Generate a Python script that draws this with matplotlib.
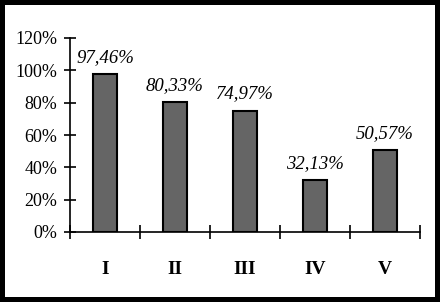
import matplotlib
matplotlib.use('Agg')
import matplotlib.pyplot as plt
import matplotlib.patches as patches

# --- data ---
categories = ['I', 'II', 'III', 'IV', 'V']
values = [0.9746, 0.8033, 0.7497, 0.3213, 0.5057]
labels = ['97,46%', '80,33%', '74,97%', '32,13%', '50,57%']
yticks = [0, 0.2, 0.4, 0.6, 0.8, 1.0, 1.2]
ytick_labels = ['0%', '20%', '40%', '60%', '80%', '100%', '120%']

W, H = 440, 302
fig = plt.figure(figsize=(W / 100, H / 100), dpi=100)
fig.patch.set_facecolor('black')
# white panel inside a 5px black frame
fig.patches.append(patches.Rectangle((5 / W, 5 / H), 430 / W, 292 / H,
                                     transform=fig.transFigure, facecolor='white',
                                     edgecolor='none', zorder=-1))

ax = fig.add_axes([70 / W, (H - 232) / H, 350 / W, 194 / H])
ax.set_zorder(2)
ax.set_facecolor('none')

x = list(range(len(categories)))
ax.bar(x, values, width=0.35, color='#656565', edgecolor='black', linewidth=1.5, zorder=2)

for xi, v, lab in zip(x, values, labels):
    ax.annotate(lab, (xi, v), xytext=(0, 6), textcoords='offset points',
                ha='center', va='bottom', fontsize=13.5, fontstyle='italic',
                family='Liberation Serif')

ax.set_xlim(-0.5, len(categories) - 0.5)
ax.set_ylim(0, 1.2)

for s in ['top', 'right']:
    ax.spines[s].set_visible(False)
for s in ['left', 'bottom']:
    ax.spines[s].set_linewidth(1.2)

ax.set_yticks(yticks)
ax.set_yticklabels(ytick_labels, family='Liberation Serif', fontsize=13)
ax.tick_params(axis='y', direction='inout', length=8, width=1.2, pad=5)

ax.set_xticks([i - 0.5 for i in range(len(categories) + 1)])
ax.set_xticklabels([])
ax.set_xticks(x, minor=True)
ax.set_xticklabels(categories, minor=True, family='Liberation Serif',
                   fontsize=14, fontweight='bold')
ax.tick_params(axis='x', which='major', direction='inout', length=10, width=1.2)
ax.tick_params(axis='x', which='minor', length=0, pad=21)

fig.savefig('out.png', dpi=100, facecolor=fig.get_facecolor())
